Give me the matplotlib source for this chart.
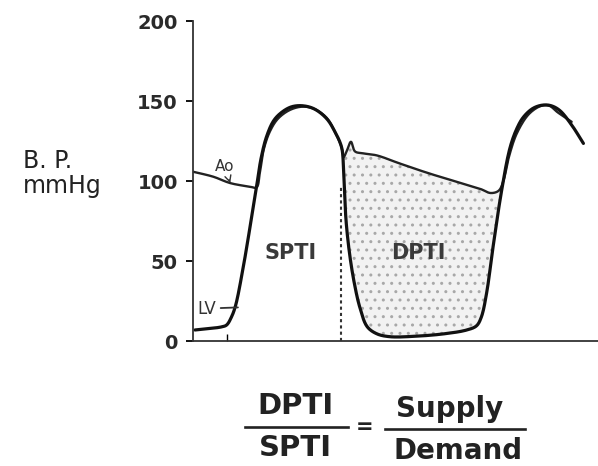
import numpy as np
import matplotlib
matplotlib.use("Agg")
import matplotlib.pyplot as plt
from matplotlib.lines import Line2D

lv_t = [0.005, 0.04, 0.07, 0.083, 0.095, 0.105, 0.124, 0.145, 0.157, 0.168, 0.182, 0.20, 0.222,
        0.245, 0.272, 0.30, 0.330, 0.350, 0.367, 0.372, 0.378, 0.388, 0.40, 0.412, 0.43,
        0.454, 0.486, 0.55, 0.62, 0.676, 0.70, 0.712, 0.725, 0.741, 0.762, 0.783, 0.80,
        0.816, 0.84, 0.865, 0.885, 0.906, 0.935, 0.964]
lv_p = [6.9, 7.8, 8.8, 10, 15, 22, 46, 77.7, 96.5, 114, 128, 138, 143.5,
        146.5, 147, 145, 139, 131, 121, 105, 75, 52, 34, 21, 9,
        4.5, 2.7, 3, 4.5, 6.9, 9.5, 15, 30, 59, 94, 121, 133,
        140, 145.5, 147.5, 147, 144, 135, 123.5]

ao_t = [0.0, 0.05, 0.092, 0.14, 0.157, 0.165, 0.175, 0.19, 0.21, 0.24, 0.272, 0.30,
        0.33, 0.35, 0.367, 0.372, 0.38, 0.390, 0.400, 0.42, 0.454, 0.51, 0.58, 0.65, 0.71,
        0.735, 0.755, 0.767, 0.78, 0.80, 0.83, 0.86, 0.88, 0.90, 0.935]
ao_p = [105.8, 102.7, 98.7, 96.5, 96, 105, 120, 131, 139, 144.5, 146.5, 145,
        139.5, 131, 121, 115, 119, 124.5, 118.5, 117.3, 116, 111, 105, 99.6, 95,
        92.5, 94, 100.6, 115, 130, 142, 147, 147, 143, 137]

diastole = (0.372, 0.767)
ecg_mark = 0.083
closure_t = 0.365
closure_p = 96


def smooth(t, p, n=14):
    # centripetal Catmull-Rom through the read points (distances in pixel-like scale)
    P = np.column_stack([np.asarray(t) * 405, np.asarray(p) * 1.6])
    P = np.vstack([2 * P[0] - P[1], P, 2 * P[-1] - P[-2]])
    out = []
    for i in range(1, len(P) - 2):
        p0, p1, p2, p3 = P[i - 1:i + 3]
        t0 = 0.0
        t1 = t0 + np.linalg.norm(p1 - p0) ** 0.5
        t2 = t1 + np.linalg.norm(p2 - p1) ** 0.5
        t3 = t2 + np.linalg.norm(p3 - p2) ** 0.5
        s = np.linspace(t1, t2, n, endpoint=False)[:, None]
        a1 = (t1 - s) / (t1 - t0) * p0 + (s - t0) / (t1 - t0) * p1
        a2 = (t2 - s) / (t2 - t1) * p1 + (s - t1) / (t2 - t1) * p2
        a3 = (t3 - s) / (t3 - t2) * p2 + (s - t2) / (t3 - t2) * p3
        b1 = (t2 - s) / (t2 - t0) * a1 + (s - t0) / (t2 - t0) * a2
        b2 = (t3 - s) / (t3 - t1) * a2 + (s - t1) / (t3 - t1) * a3
        out.append((t2 - s) / (t2 - t1) * b1 + (s - t1) / (t2 - t1) * b2)
    out.append(P[-2][None, :])
    C = np.vstack(out)
    return C[:, 0] / 405, C[:, 1] / 1.6


lv_x, lv_y = smooth(lv_t, lv_p)
ao_x, ao_y = smooth(ao_t, ao_p)

fig = plt.figure(figsize=(5.98, 4.66), dpi=100)
ax = fig.add_axes([0.3227, 0.2682, 0.6773, 0.6867])

# stippled diastolic area between aortic and LV pressure
tt = np.linspace(diastole[0], diastole[1], 400)
top = np.interp(tt, np.maximum.accumulate(ao_x), ao_y)
bot = np.interp(tt, np.maximum.accumulate(lv_x), lv_y)
plt.rcParams["hatch.linewidth"] = 1.0
ax.fill_between(tt, bot, top, facecolor="#f2f2f2", edgecolor="#a8a8a8",
                hatch="..", linewidth=0)

ax.plot(ao_x, ao_y, color="#222222", lw=1.7, solid_capstyle="round")
ax.plot(lv_x, lv_y, color="#111111", lw=2.3, solid_capstyle="round")

ax.plot([closure_t, closure_t], [0, closure_p], color="#333333", lw=1.5,
        linestyle=(0, (1.5, 1.5)))

ax.text(0.24, 55, "SPTI", fontsize=15, fontweight="bold", ha="center", va="center", color="#3a3a3a")
ax.text(0.556, 55, "DPTI", fontsize=15, fontweight="bold", ha="center", va="center", color="#3a3a3a")
ax.annotate("Ao", xy=(0.092, 98.7), xytext=(0.079, 109), fontsize=11,
            ha="center", va="center", color="#333333",
            arrowprops=dict(arrowstyle="->", color="#333333", lw=1, shrinkA=2, shrinkB=0))
ax.annotate("LV", xy=(0.111, 21), xytext=(0.035, 20.3), fontsize=12,
            ha="center", va="center", color="#333333",
            arrowprops=dict(arrowstyle="-", color="#333333", lw=1.3, shrinkA=1, shrinkB=0))

ax.set_xlim(0, 1)
ax.set_ylim(0, 200)
ax.set_yticks([0, 50, 100, 150, 200])
ax.set_xticks([ecg_mark])
ax.set_xticklabels([""])
ax.tick_params(axis="x", direction="in", length=5, width=1)
ax.tick_params(axis="y", direction="out", length=5, width=1.3, pad=6,
               labelsize=14, labelcolor="#2a2a2a")
for lab in ax.get_yticklabels():
    lab.set_fontweight("bold")
for s in ["top", "right"]:
    ax.spines[s].set_visible(False)
for s in ["left", "bottom"]:
    ax.spines[s].set_linewidth(1.3)
    ax.spines[s].set_color("#333333")

fig.text(0.038, 0.628, "B. P.\nmmHg", fontsize=17, ha="left", va="center",
         color="#222222", linespacing=1.05)

# ratio at the bottom
fig.text(0.494, 0.129, "DPTI", fontsize=21, fontweight="bold", ha="center", va="center", color="#222222")
fig.text(0.494, 0.038, "SPTI", fontsize=21, fontweight="bold", ha="center", va="center", color="#222222")
fig.text(0.609, 0.084, "=", fontsize=15, fontweight="bold", ha="center", va="center", color="#222222")
fig.text(0.752, 0.122, "Supply", fontsize=20, fontweight="bold", ha="center", va="center", color="#222222")
fig.text(0.766, 0.033, "Demand", fontsize=20, fontweight="bold", ha="center", va="center", color="#222222")
fig.add_artist(Line2D([245 / 598, 348 / 598], [1 - 427 / 466] * 2, color="#222222", lw=1.9))
fig.add_artist(Line2D([385 / 598, 525 / 598], [1 - 429 / 466] * 2, color="#222222", lw=1.9))

fig.savefig("out.png", dpi=100)
